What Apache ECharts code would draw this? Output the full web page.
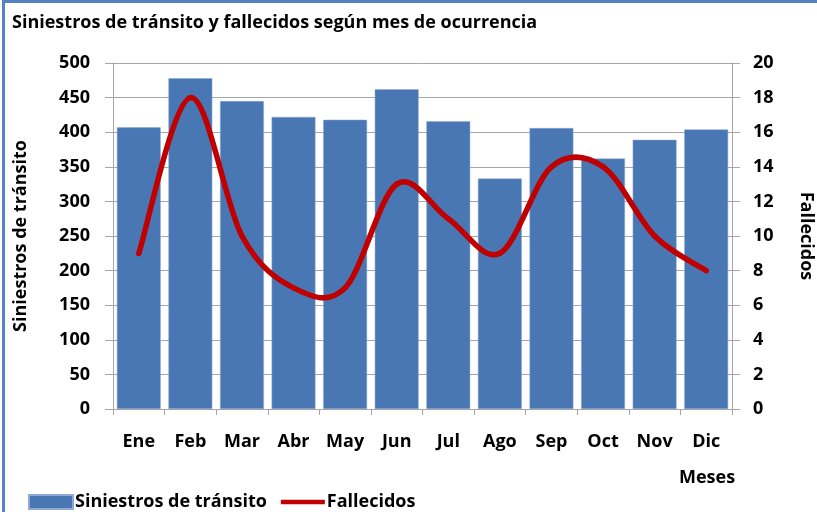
<!DOCTYPE html>
<html>
<head>
<meta charset="utf-8">
<script src="https://cdn.jsdelivr.net/npm/echarts@6/dist/echarts.min.js"></script>
<style>
  html, body { margin: 0; padding: 0; background: #fff; }
  #main { width: 817px; height: 512px; }
</style>
</head>
<body>
<div id="main"></div>
<script>
// data
var meses = ["Ene", "Feb", "Mar", "Abr", "May", "Jun", "Jul", "Ago", "Sep", "Oct", "Nov", "Dic"];
var siniestros = [407, 478, 445, 422, 418, 462, 416, 333, 406, 362, 389, 404];
var fallecidos = [9, 18, 10, 7, 7, 13, 11, 9, 14, 14, 10, 8];

var chartDom = document.getElementById("main");
var myChart = echarts.init(chartDom);

var font = "'Open Sans', 'Liberation Sans', sans-serif";
var gridColor = "#a6a6a6";
var red = "#c00000";

// Excel-like smoothed line: one bezier segment per point pair (catmull-rom)
function renderSegment(params, api) {
  var i = params.dataIndex;
  var n = fallecidos.length;
  if (i >= n - 1) return null;
  var pt = function (k) {
    k = Math.max(0, Math.min(n - 1, k));
    return api.coord([k, fallecidos[k]]);
  };
  var p0 = pt(i - 1), p1 = pt(i), p2 = pt(i + 1), p3 = pt(i + 2);
  return {
    type: "bezierCurve",
    shape: {
      x1: p1[0], y1: p1[1],
      x2: p2[0], y2: p2[1],
      cpx1: p1[0] + (p2[0] - p0[0]) / 6,
      cpy1: p1[1] + (p2[1] - p0[1]) / 6,
      cpx2: p2[0] - (p3[0] - p1[0]) / 6,
      cpy2: p2[1] - (p3[1] - p1[1]) / 6
    },
    style: { stroke: red, lineWidth: 5.5, lineCap: "round", fill: null }
  };
}

var labelStyle = { fontFamily: font, fontSize: 18, fontWeight: "bold", color: "#000" };

var option = {
  animation: false,
  textStyle: { fontFamily: font },
  title: {
    text: "Siniestros de tránsito y fallecidos según mes de ocurrencia",
    left: 7,
    top: 9,
    textStyle: { fontFamily: font, fontSize: 18, fontWeight: "bold", color: "#000" }
  },
  grid: { left: 113, right: 85, top: 63, bottom: 103, outerBoundsMode: "none" },
  legend: {
    left: 23,
    top: 488,
    itemWidth: 44,
    itemHeight: 14,
    itemGap: 14,
    textStyle: { fontFamily: font, fontSize: 18, fontWeight: "bold", color: "#000", padding: [0, 0, 0, -3] },
    data: [
      { name: "Siniestros de tránsito", icon: "rect" },
      { name: "Fallecidos", icon: "path://M0,0 L40,0 L40,4 L0,4 Z" }
    ]
  },
  xAxis: {
    type: "category",
    data: meses,
    axisLine: { lineStyle: { color: gridColor, width: 1 } },
    axisTick: { show: true, length: 6, lineStyle: { color: gridColor } },
    axisLabel: Object.assign({ margin: 24 }, labelStyle)
  },
  yAxis: [
    {
      type: "value",
      min: 0,
      max: 500,
      interval: 50,
      name: "Siniestros de tránsito",
      nameLocation: "middle",
      nameGap: 83,
      nameTextStyle: labelStyle,
      axisLine: { show: true, lineStyle: { color: gridColor } },
      axisTick: { show: true, length: 8, lineStyle: { color: gridColor } },
      axisLabel: Object.assign({ margin: 23 }, labelStyle),
      splitLine: { lineStyle: { color: gridColor, width: 1 } }
    },
    {
      type: "value",
      min: 0,
      max: 20,
      interval: 2,
      name: "Fallecidos",
      nameLocation: "middle",
      nameGap: 65,
      nameRotate: -90,
      nameTextStyle: labelStyle,
      axisLine: { show: true, lineStyle: { color: gridColor } },
      axisTick: { show: true, length: 8, lineStyle: { color: gridColor } },
      axisLabel: Object.assign({ margin: 21 }, labelStyle),
      splitLine: { show: false }
    }
  ],
  graphic: [
    { type: "rect", left: 2, top: 0, shape: { width: 3, height: 512 }, style: { fill: "#5582c0" } },
    { type: "rect", left: 2, top: 0, shape: { width: 815, height: 3 }, style: { fill: "#5582c0" } },
    {
      type: "text",
      left: 679,
      top: 469,
      style: { text: "Meses", fontFamily: font, fontSize: 18, fontWeight: "bold", fill: "#000" }
    }
  ],
  series: [
    {
      name: "Siniestros de tránsito",
      type: "bar",
      data: siniestros,
      barCategoryGap: "15%",
      itemStyle: { color: "#4877b3", borderColor: "#8eaad2", borderWidth: 0.5 }
    },
    {
      name: "Fallecidos",
      type: "custom",
      yAxisIndex: 1,
      data: fallecidos.map(function (v, i) { return [i, v]; }),
      encode: { x: 0, y: 1 },
      renderItem: renderSegment,
      itemStyle: { color: red },
      z: 3
    }
  ]
};

option && myChart.setOption(option);
</script>
</body>
</html>
